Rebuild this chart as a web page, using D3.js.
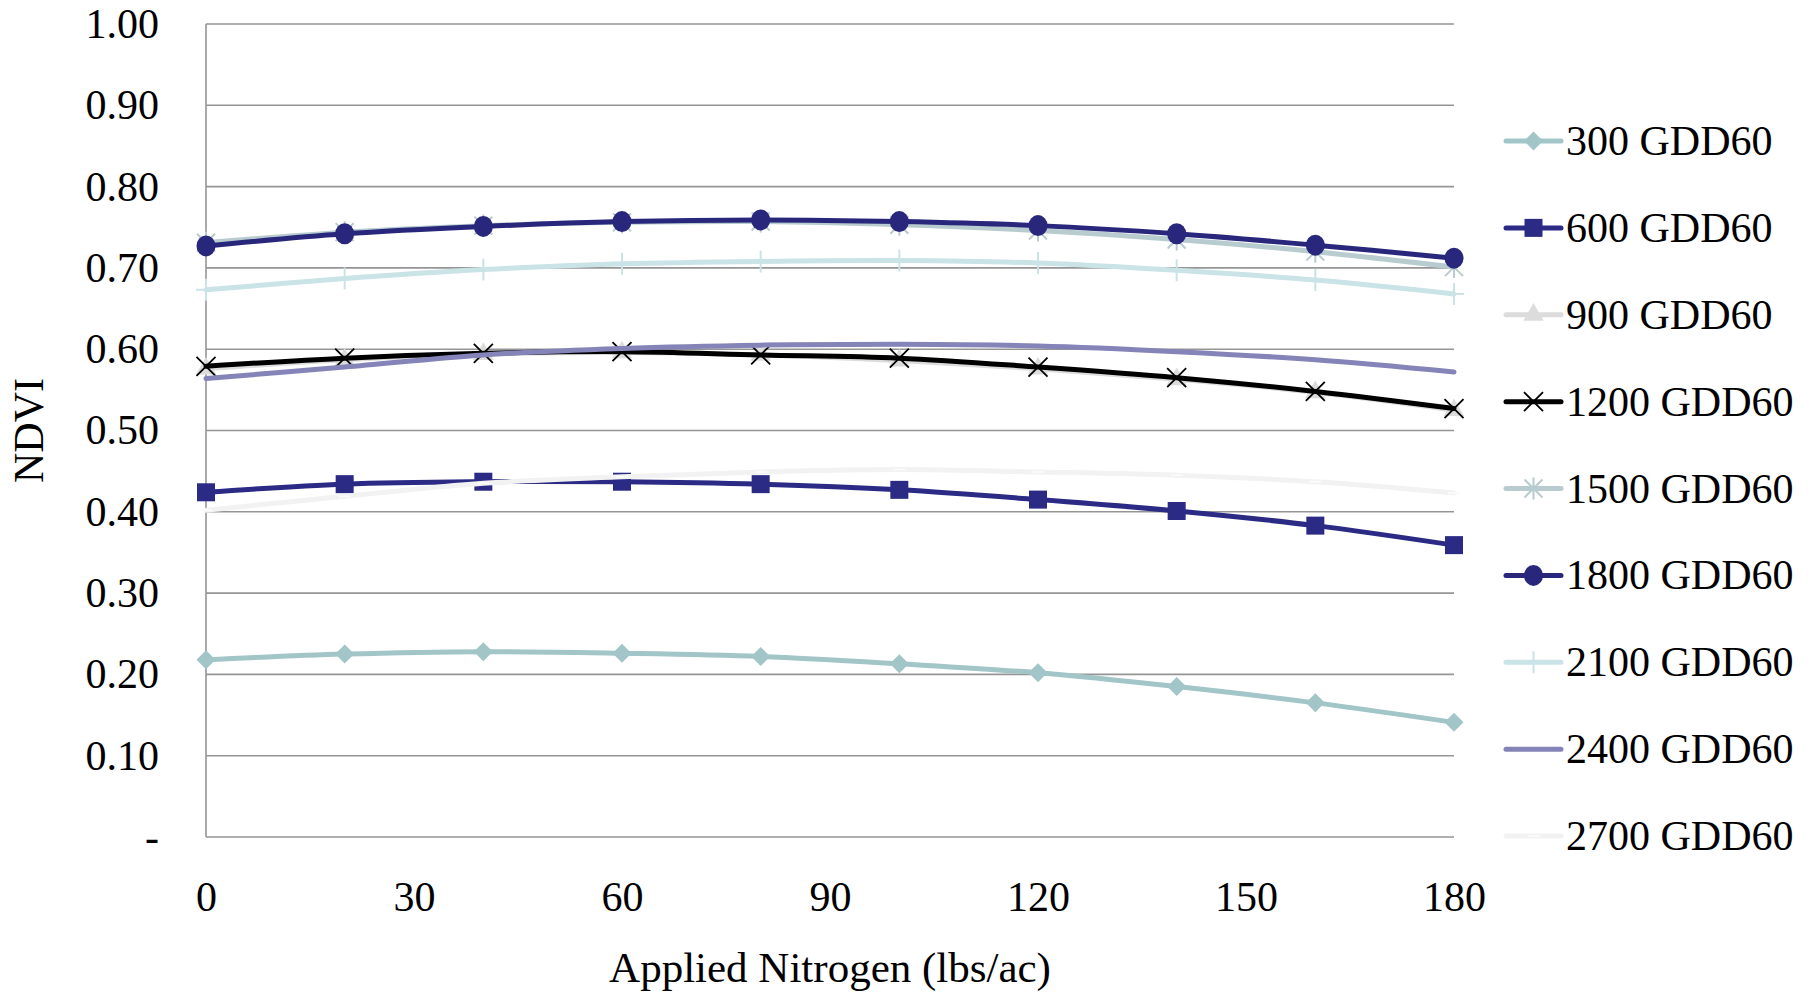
<!DOCTYPE html>
<html>
<head>
<meta charset="utf-8">
<script src="https://cdn.jsdelivr.net/npm/d3@7"></script>
<style>
  html, body { margin: 0; padding: 0; background: #fff; }
  svg { display: block; font-family: "Liberation Serif", "Times New Roman", serif; }
</style>
</head>
<body>
<svg id="chart" width="1816" height="993"></svg>
<script>
// applied nitrogen (lbs/ac)
const nitrogen = [0, 20, 40, 60, 80, 100, 120, 140, 160, 180];
const xTicks = [0, 30, 60, 90, 120, 150, 180];
const yTicks = [0, 0.1, 0.2, 0.3, 0.4, 0.5, 0.6, 0.7, 0.8, 0.9, 1.0];

const seriesNames = ["300 GDD60", "600 GDD60", "900 GDD60", "1200 GDD60", "1500 GDD60",
  "1800 GDD60", "2100 GDD60", "2400 GDD60", "2700 GDD60"];

const gdd300  = [0.218, 0.225, 0.228, 0.226, 0.222, 0.213, 0.202, 0.185, 0.165, 0.141];
const gdd600  = [0.424, 0.434, 0.437, 0.437, 0.434, 0.427, 0.415, 0.401, 0.383, 0.359];
const gdd900  = [0.576, 0.587, 0.594, 0.596, 0.593, 0.586, 0.576, 0.563, 0.547, 0.525];
const gdd1200 = [0.579, 0.589, 0.595, 0.597, 0.593, 0.589, 0.578, 0.565, 0.548, 0.527];
const gdd1500 = [0.731, 0.744, 0.752, 0.756, 0.757, 0.753, 0.746, 0.735, 0.720, 0.701];
const gdd1800 = [0.727, 0.742, 0.751, 0.757, 0.759, 0.757, 0.752, 0.742, 0.728, 0.712];
const gdd2100 = [0.673, 0.687, 0.698, 0.705, 0.708, 0.709, 0.706, 0.697, 0.685, 0.668];
const gdd2400 = [0.564, 0.578, 0.593, 0.601, 0.605, 0.606, 0.604, 0.597, 0.587, 0.572];
const gdd2700 = [0.402, 0.419, 0.435, 0.443, 0.449, 0.452, 0.449, 0.445, 0.437, 0.423];

const seriesValues = [gdd300, gdd600, gdd900, gdd1200, gdd1500, gdd1800, gdd2100, gdd2400, gdd2700];
const colors = ["#a2c5c7", "#2b2a85", "#dcdcdc", "#000000", "#b8cccf", "#28277c", "#c9e3e6", "#8484b8", "#f2f2f2"];
const markers = ["diamond", "square", "triangle", "x", "star", "circle", "plus", "none", "dash"];

const width = 1816, height = 993;
const margin = { top: 24, right: 362, bottom: 156, left: 206 };
const innerW = width - margin.left - margin.right;
const innerH = height - margin.top - margin.bottom;

const svg = d3.select("#chart");
const g = svg.append("g").attr("transform", `translate(${margin.left},${margin.top})`);

const x = d3.scaleLinear().domain([0, 180]).range([0, innerW]);
const y = d3.scaleLinear().domain([0, 1]).range([innerH, 0]);

// gridlines
g.append("g")
  .selectAll("line")
  .data(yTicks)
  .join("line")
  .attr("x1", 0).attr("x2", innerW)
  .attr("y1", d => y(d)).attr("y2", d => y(d))
  .attr("stroke", "#959595")
  .attr("stroke-width", 1.6);

g.append("line")
  .attr("x1", 0).attr("x2", 0)
  .attr("y1", 0).attr("y2", innerH)
  .attr("stroke", "#959595")
  .attr("stroke-width", 1.6);

// y axis labels
const yAxis = g.append("g")
  .call(d3.axisLeft(y).tickValues(yTicks).tickSize(0).tickPadding(47)
    .tickFormat(d => d === 0 ? "-" : d3.format(".2f")(d)))
  .attr("font-family", null)
  .attr("font-size", null);
yAxis.select(".domain").remove();
yAxis.selectAll("text").style("font-size", "42px").attr("fill", "#000");

// x axis labels
const xAxis = g.append("g")
  .attr("transform", `translate(0,${innerH})`)
  .call(d3.axisBottom(x).tickValues(xTicks).tickSize(0).tickPadding(44))
  .attr("font-family", null)
  .attr("font-size", null);
xAxis.select(".domain").remove();
xAxis.selectAll("text").style("font-size", "42px").attr("fill", "#000");

// axis titles
svg.append("text")
  .attr("x", margin.left + innerW / 2)
  .attr("y", 967)
  .attr("text-anchor", "middle")
  .attr("dominant-baseline", "central")
  .style("font-size", "43px")
  .text("Applied Nitrogen (lbs/ac)");

svg.append("text")
  .attr("transform", `translate(29,${margin.top + innerH / 2}) rotate(-90)`)
  .attr("text-anchor", "middle")
  .attr("dominant-baseline", "central")
  .style("font-size", "42px")
  .text("NDVI");

// marker drawing
function drawMarker(sel, type, color) {
  if (type === "diamond") {
    sel.append("path").attr("d", "M0,-9.5L9.5,0L0,9.5L-9.5,0Z").attr("fill", color);
  } else if (type === "square") {
    sel.append("rect").attr("x", -9).attr("y", -9).attr("width", 18).attr("height", 18).attr("fill", color);
  } else if (type === "triangle") {
    sel.append("path").attr("d", d3.symbol(d3.symbolTriangle, 180)()).attr("fill", color);
  } else if (type === "circle") {
    sel.append("ellipse").attr("rx", 9.5).attr("ry", 10.5).attr("fill", color);
  } else if (type === "x") {
    sel.append("path").attr("d", "M-9.5,-9.5L9.5,9.5M-9.5,9.5L9.5,-9.5").attr("stroke", color).attr("stroke-width", 1.8).attr("fill", "none");
  } else if (type === "star") {
    sel.append("path").attr("d", "M-9,-9L9,9M-9,9L9,-9M0,-11L0,11").attr("stroke", color).attr("stroke-width", 2).attr("fill", "none");
  } else if (type === "plus") {
    sel.append("path").attr("d", "M0,-11L0,11M-10,0L10,0").attr("stroke", color).attr("stroke-width", 2).attr("fill", "none");
  } else if (type === "dash") {
    sel.append("path").attr("d", "M-6,0L6,0").attr("stroke", "#fafafa").attr("stroke-width", 2).attr("fill", "none");
  }
}

const line = d3.line()
  .x((d, i) => x(nitrogen[i]))
  .y(d => y(d))
  .curve(d3.curveCatmullRom);

seriesValues.forEach((vals, s) => {
  const sg = g.append("g");
  sg.append("path")
    .attr("d", line(vals))
    .attr("fill", "none")
    .attr("stroke", colors[s])
    .attr("stroke-width", 5)
    .attr("stroke-linejoin", "round")
    .attr("stroke-linecap", "round");
  sg.selectAll("g.mk")
    .data(vals)
    .join("g")
    .attr("class", "mk")
    .attr("transform", (d, i) => `translate(${x(nitrogen[i])},${y(d)})`)
    .each(function () { drawMarker(d3.select(this), markers[s], colors[s]); });
});

// legend
const legend = svg.append("g");
const legendY = d3.scalePoint().domain(seriesNames).range([141, 836]);
seriesNames.forEach((name, s) => {
  const lg = legend.append("g").attr("transform", `translate(1506,${legendY(name)})`);
  lg.append("line")
    .attr("x1", 0).attr("x2", 55)
    .attr("stroke", colors[s])
    .attr("stroke-width", 5)
    .attr("stroke-linecap", "round");
  const mk = lg.append("g").attr("transform", "translate(27.5,0)");
  drawMarker(mk, markers[s], colors[s]);
  lg.append("text")
    .attr("x", 60)
    .attr("dominant-baseline", "central")
    .style("font-size", "42px")
    .text(name);
});
</script>
</body>
</html>
